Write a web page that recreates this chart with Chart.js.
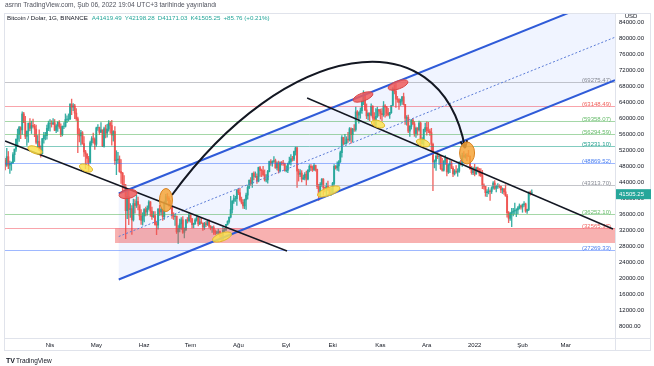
<!DOCTYPE html>
<html>
<head>
<meta charset="utf-8">
<script src="https://cdn.jsdelivr.net/npm/chart.js@4.4.1/dist/chart.umd.min.js"></script>
<style>
  html, body { margin: 0; padding: 0; background: #ffffff; }
  #wrap { width: 654px; height: 366px; }
</style>
</head>
<body>
<div id="wrap"><canvas id="btcChart" width="654" height="366"></canvas></div>
<script>
// days counted from 2021-01-01 (day 0); first candle is 2021-03-02
const firstDay = 61;
const firstOpen = 49.6; // close of 2021-03-01, thousands USD

// daily closes / highs / lows in thousands USD, one row per month (Mar 2021 .. Feb 2022)
const closes = [
  48.4,50.5,48.4,48.8,48.9,51.0,52.4,54.9,56.0,57.8,57.2,61.2,59.0,55.6,56.9,58.9,57.6,58.3,58.1,57.4,54.1,54.3,52.3,51.3,55.0,55.8,55.8,57.6,58.8,58.8,
  58.7,59.0,57.1,58.2,59.1,58.0,56.0,58.1,58.1,59.8,59.9,59.9,63.6,62.9,63.2,61.4,60.0,56.2,55.7,56.5,53.8,51.7,51.2,50.1,49.1,54.0,55.0,54.9,53.6,57.7,
  57.8,56.6,57.2,53.2,57.5,56.4,57.4,58.9,58.3,55.9,56.8,49.5,49.7,49.9,46.8,46.4,43.6,42.9,37.0,40.6,37.3,37.5,34.7,38.8,38.3,39.3,38.5,35.7,34.6,35.7,37.3,
  36.7,37.6,39.2,36.9,35.5,35.8,33.6,33.4,37.4,36.7,37.3,35.5,39.1,40.5,40.1,38.3,38.1,35.8,35.5,35.6,31.7,32.5,33.7,34.7,31.6,32.2,34.7,34.5,35.9,35.0,
  33.5,33.8,34.7,35.3,33.7,34.2,33.9,32.9,33.8,33.5,34.3,33.1,32.7,32.8,31.9,31.4,31.5,31.8,30.8,29.8,32.1,32.3,33.6,34.3,35.4,37.3,39.4,40.0,40.0,42.2,41.5,
  39.8,39.1,38.2,39.7,40.9,42.8,44.6,43.8,46.3,45.6,45.6,44.4,47.8,47.1,47.0,46.0,44.7,44.7,46.8,49.3,48.9,49.3,49.5,47.7,48.9,47.0,49.0,48.9,48.8,47.0,47.1,
  48.8,49.3,50.0,49.9,51.8,52.7,46.9,46.1,46.4,44.9,45.2,46.1,44.9,47.1,48.1,47.8,47.3,48.3,47.3,43.0,40.7,43.6,44.9,42.8,42.7,43.2,42.2,41.0,41.5,43.8,
  48.1,47.7,48.2,49.2,51.5,55.3,53.8,53.9,54.9,54.7,57.5,56.0,57.4,57.3,61.7,60.9,61.5,62.0,64.3,66.0,62.2,60.7,61.3,60.9,63.1,60.3,58.5,60.6,62.3,61.9,61.3,
  61.0,63.2,62.9,61.4,61.0,61.5,63.3,67.5,66.9,64.9,64.8,64.1,64.4,65.5,63.6,60.1,60.3,56.9,58.1,59.7,58.7,56.3,57.6,57.2,58.9,53.7,54.7,57.3,57.8,57.0,
  56.9,56.5,53.6,49.2,49.4,50.6,50.5,50.6,47.5,47.1,49.4,50.1,46.7,48.4,48.9,47.6,46.2,46.9,46.7,46.9,49.0,48.6,50.8,50.4,50.8,50.7,50.6,47.5,46.5,47.1,46.2,
  47.7,47.3,46.4,45.8,43.4,43.1,41.5,41.7,41.9,41.8,42.7,43.9,42.6,43.1,43.2,43.1,42.2,42.4,41.7,40.7,36.5,35.1,36.3,36.7,36.9,37.1,37.2,37.7,38.2,37.9,38.5,
  38.7,36.9,37.3,41.6,41.41949,41.50525
];
const highs = [
  50.1,52.6,51.8,49.4,49.2,51.5,52.4,54.9,57.4,58.1,58.0,61.7,61.6,60.6,56.9,58.9,60.0,59.4,59.9,58.6,58.4,55.8,57.2,53.2,55.1,56.6,56.6,58.4,59.4,59.8,
  59.5,60.0,59.8,58.5,59.3,59.5,58.7,58.2,59.0,61.2,60.7,61.2,63.8,64.9,63.8,63.6,62.5,60.4,57.5,57.1,56.8,55.5,52.1,51.2,50.6,54.4,55.5,56.4,55.2,57.9,
  58.5,57.9,59.0,57.2,57.9,58.4,58.6,59.5,59.3,59.6,57.0,58.0,52.0,51.6,50.7,49.8,46.6,45.8,43.6,42.5,42.2,38.8,38.3,39.9,39.8,40.9,40.4,38.0,37.3,36.5,37.5,
  37.9,38.2,39.5,39.3,37.9,36.8,36.8,34.1,37.5,38.4,37.7,37.4,39.4,41.1,41.3,40.5,39.6,38.2,36.5,36.1,35.7,33.3,34.9,35.3,35.5,32.7,34.8,35.3,36.6,36.1,
  35.1,33.9,35.0,35.9,35.3,35.1,35.1,33.9,34.1,34.3,34.6,34.7,33.3,33.1,33.2,32.2,31.9,32.4,31.9,31.0,32.9,32.6,33.6,34.5,35.4,40.6,39.5,40.9,40.6,42.3,42.4,
  42.6,40.4,39.8,39.9,41.4,43.4,44.7,45.3,46.4,46.7,46.7,46.2,47.9,48.1,47.4,48.1,47.2,46.0,47.1,49.4,49.8,49.5,50.5,49.9,49.2,49.4,49.2,49.3,49.6,48.9,48.2,
  48.9,50.4,51.0,50.6,51.9,52.9,52.9,47.4,47.3,47.0,45.9,46.5,46.9,47.3,48.5,48.5,48.2,48.8,48.4,47.4,43.6,44.0,45.0,45.0,42.9,43.9,44.4,42.8,42.6,44.1,
  48.5,48.3,49.2,49.5,51.9,55.8,55.3,56.1,55.5,56.6,57.8,57.7,57.6,58.5,62.9,62.0,61.7,62.7,64.5,67.0,66.6,63.7,61.5,61.5,63.7,63.3,61.5,62.5,62.9,62.3,62.4,
  62.5,64.3,63.5,63.1,62.6,61.6,63.3,67.8,68.5,69.0,65.6,65.0,64.9,65.5,66.4,63.6,60.8,60.9,58.3,59.8,60.0,59.3,57.9,57.8,59.4,59.2,55.3,57.4,58.9,59.2,
  59.1,57.4,57.6,53.9,49.7,51.0,51.9,51.2,50.8,50.1,49.5,50.8,50.2,48.7,49.5,49.4,48.0,47.3,48.3,47.5,49.3,49.6,51.4,51.8,51.2,51.3,52.1,50.7,48.1,47.9,48.6,
  47.9,47.9,47.6,47.5,47.1,43.7,43.1,42.3,42.8,42.2,43.0,44.3,44.5,43.4,43.8,43.5,43.2,42.7,42.6,43.5,41.1,36.8,36.6,37.6,37.6,38.9,37.5,38.0,38.7,38.4,38.7,
  39.3,38.9,37.4,41.7,41.9,42.19828
];
const lows = [
  47.2,48.1,47.5,46.3,47.1,48.9,49.3,51.8,53.0,54.3,55.0,56.1,59.0,55.0,53.3,54.1,57.0,56.3,57.8,55.5,53.7,53.0,52.0,50.4,51.2,53.9,54.7,54.9,57.0,56.9,
  57.9,58.5,57.0,56.5,56.8,57.6,55.5,55.7,57.5,57.9,59.0,59.4,59.8,61.0,62.0,60.0,59.6,51.5,54.2,53.4,53.6,50.6,47.5,48.8,47.0,48.8,53.3,53.9,52.3,53.1,
  57.1,56.0,56.5,53.0,52.9,55.2,55.4,56.9,56.3,53.4,54.4,48.6,46.0,48.8,46.6,43.8,42.0,42.3,30.0,35.0,33.5,35.3,31.1,34.4,36.4,37.8,37.2,34.7,33.6,33.4,34.2,
  35.7,35.9,37.2,35.6,34.8,35.3,33.4,31.0,32.4,35.8,35.9,34.6,34.8,38.7,39.5,38.1,37.4,35.1,34.8,33.3,31.3,28.8,31.7,32.3,31.3,30.2,32.0,33.9,34.2,34.1,
  32.7,32.7,33.6,34.4,33.2,33.5,33.8,32.1,32.3,33.0,33.3,32.7,32.2,31.6,31.1,31.0,31.2,31.1,30.4,29.3,29.5,31.7,32.0,33.4,33.9,35.2,36.4,38.8,39.3,38.3,41.0,
  39.4,38.7,37.6,37.5,37.3,39.9,42.5,43.3,42.8,44.7,45.3,43.8,44.2,45.6,45.5,45.7,44.4,44.2,43.9,46.7,48.3,48.1,49.1,47.6,47.2,46.4,46.7,48.4,48.3,46.9,46.7,
  46.5,48.6,48.4,49.4,49.5,50.9,42.8,44.4,45.5,44.2,44.8,44.7,43.4,44.7,46.7,47.0,46.8,47.0,46.9,42.5,39.6,40.6,43.1,40.9,41.7,40.8,42.1,40.9,40.8,41.4,
  43.3,47.4,47.1,46.9,49.1,50.4,53.4,53.6,53.7,54.1,54.4,53.9,54.2,56.8,56.9,60.1,58.9,60.1,61.3,63.5,62.0,60.0,59.7,59.5,60.7,59.8,58.0,57.8,60.3,60.7,59.9,
  59.5,60.6,60.4,60.7,60.7,60.1,61.3,63.3,66.2,62.8,64.1,62.3,63.3,63.6,63.4,58.6,58.4,56.5,55.6,57.4,58.5,55.6,55.3,55.9,56.9,53.5,53.7,53.3,56.7,55.9,
  56.5,55.8,51.7,42.0,47.7,47.1,50.0,48.6,47.3,46.9,46.9,48.6,45.7,46.3,46.5,47.5,45.5,45.9,46.4,45.6,46.6,48.4,48.1,50.4,50.1,49.5,50.5,47.3,46.1,46.0,45.7,
  46.1,46.7,45.7,45.5,42.5,42.4,40.6,40.5,41.2,39.6,41.3,42.4,42.3,41.7,42.6,42.7,41.5,41.3,41.1,40.6,35.4,34.0,34.6,33.0,35.7,36.2,35.5,36.2,37.4,37.4,36.6,
  38.1,36.6,36.3,37.0,40.9,41.17103
];

// time axis
const monthStarts = [90, 120, 151, 181, 212, 243, 273, 304, 334, 365, 396, 424];
const monthLabels = ['Nis', 'May', 'Haz', 'Tem', 'Ağu', 'Eyl', 'Eki', 'Kas', 'Ara', '2022', 'Şub', 'Mar'];
const priceTicks = [8000, 12000, 16000, 20000, 24000, 28000, 32000, 36000, 40000, 44000,
  48000, 52000, 56000, 60000, 64000, 68000, 72000, 76000, 80000, 84000];

// horizontal levels drawn on the chart
const levelPrices = [69275.47, 63148.49, 59358.07, 56294.59, 53231.10, 48869.52, 43313.70, 36252.10, 32565.37, 27269.33];
const levelKinds = ['gray', 'red', 'green', 'green', 'teal', 'blue', 'gray', 'green', 'red', 'blue'];

// drawings, in (day, price)
const channel = { startDay: 134.5, upper: 41300, lower: 19800, slope: 155 };
const trendLines = [
  [60.9, 54425, 243.5, 26925],
  [256.5, 65175, 454.6, 32425]
];
const arcPoints = [[169.0, 40925], [242.2, 79675], [342.6, 85925], [358.8, 52675]];
const supportZone = { fromDay: 132.1, top: 32565.37, bottom: 28925 };
// day, price, width (days), height (price), tilt (deg), colour
const marks = [
  [80.3, 52175, 9.7, 1750, 21, 'yellow'],
  [113.3, 47675, 9.0, 1750, 21, 'yellow'],
  [140.5, 41175, 11.7, 2250, -10, 'red'],
  [165.1, 39675, 8.4, 5750, 0, 'orange'],
  [201.4, 30425, 13.0, 2000, -20, 'yellow'],
  [270.5, 41800, 15.5, 2000, -20, 'yellow'],
  [292.7, 65425, 13.6, 2000, -20, 'red'],
  [315.4, 68425, 13.6, 2000, -20, 'red'],
  [302.4, 58675, 9.0, 1750, 18, 'yellow'],
  [331.6, 53925, 9.0, 1750, 18, 'yellow'],
  [360.1, 51425, 9.7, 5500, 0, 'orange']
];

const headerTop = 'asrnn TradingView.com, Şub 06, 2022 19:04 UTC+3 tarihinde yayınlandı';
const headerSymbol = 'Bitcoin / Dolar, 1G, BINANCE';
const headerValues = ['A41419.49', 'Y42198.28', 'D41171.03', 'K41505.25', '+85.76 (+0.21%)'];

const X_MIN = 60.2, X_MAX = 455.9;
const Y_MIN = 5175, Y_MAX = 86425;
const FONT = '"Liberation Sans", Arial, sans-serif';
const UP = 'rgba(38, 166, 154, 0.9)';
const DOWN = 'rgba(239, 83, 80, 0.9)';

const lineColors = {
  gray: 'rgba(149, 152, 161, 0.55)', red: 'rgba(242, 54, 69, 0.45)', green: 'rgba(76, 175, 80, 0.5)',
  teal: 'rgba(8, 153, 129, 0.5)', blue: 'rgba(41, 98, 255, 0.45)'
};
const textColors = { gray: '#868993', red: '#f0605a', green: '#66bb6a', teal: '#1e9e8c', blue: '#4a7ff0' };
const markStyles = {
  yellow: ['rgba(250, 226, 80, 0.85)', '#e2b62a'],
  red: ['rgba(240, 92, 92, 0.85)', '#d94545'],
  orange: ['rgba(246, 164, 56, 0.85)', '#d9821f']
};

const opens = closes.map((c, i) => i === 0 ? firstOpen : closes[i - 1]);
const bodyData = closes.map((c, i) => ({ x: firstDay + i, y: [opens[i] * 1000, c * 1000] }));
const wickData = closes.map((c, i) => ({ x: firstDay + i, y: [lows[i] * 1000, highs[i] * 1000] }));
const candleColors = closes.map((c, i) => c >= opens[i] ? UP : DOWN);

function clipArea(ctx, a) {
  ctx.beginPath();
  ctx.rect(a.left, a.top, a.right - a.left, a.bottom - a.top);
  ctx.clip();
}

const drawings = {
  id: 'drawings',
  beforeDatasetsDraw(chart) {
    const { ctx, chartArea: a, scales: { x, y } } = chart;
    ctx.save();
    clipArea(ctx, a);
    const d0 = channel.startDay, d1 = X_MAX;
    const up = d => channel.upper + (d - d0) * channel.slope;
    const lo = d => channel.lower + (d - d0) * channel.slope;
    ctx.fillStyle = 'rgba(41, 98, 255, 0.07)';
    ctx.beginPath();
    ctx.moveTo(x.getPixelForValue(d0), y.getPixelForValue(up(d0)));
    ctx.lineTo(x.getPixelForValue(d1), y.getPixelForValue(up(d1)));
    ctx.lineTo(x.getPixelForValue(d1), y.getPixelForValue(lo(d1)));
    ctx.lineTo(x.getPixelForValue(d0), y.getPixelForValue(lo(d0)));
    ctx.closePath();
    ctx.fill();
    ctx.restore();
  },
  afterDatasetsDraw(chart) {
    const { ctx, chartArea: a, scales: { x, y } } = chart;
    ctx.save();
    clipArea(ctx, a);

    // support zone
    const zx = x.getPixelForValue(supportZone.fromDay);
    const zt = y.getPixelForValue(supportZone.top);
    const zb = y.getPixelForValue(supportZone.bottom);
    ctx.fillStyle = 'rgba(239, 83, 80, 0.45)';
    ctx.fillRect(zx, zt, a.right - zx, zb - zt);

    // horizontal levels with labels
    ctx.font = '6px ' + FONT;
    ctx.textAlign = 'right';
    ctx.textBaseline = 'middle';
    levelPrices.forEach((p, i) => {
      const py = Math.round(y.getPixelForValue(p)) + 0.5;
      ctx.strokeStyle = lineColors[levelKinds[i]];
      ctx.lineWidth = 1;
      ctx.beginPath();
      ctx.moveTo(a.left, py);
      ctx.lineTo(a.right, py);
      ctx.stroke();
      ctx.fillStyle = textColors[levelKinds[i]];
      ctx.fillText('(' + p.toFixed(2) + ')', a.right - 4, py - 2);
    });

    // channel borders + dotted middle
    const d0 = channel.startDay, d1 = X_MAX;
    const seg = (p0, p1) => {
      ctx.beginPath();
      ctx.moveTo(x.getPixelForValue(d0), y.getPixelForValue(p0));
      ctx.lineTo(x.getPixelForValue(d1), y.getPixelForValue(p1));
      ctx.stroke();
    };
    const span = (d1 - d0) * channel.slope;
    ctx.strokeStyle = '#2f5bd8';
    ctx.lineWidth = 2;
    seg(channel.upper, channel.upper + span);
    seg(channel.lower, channel.lower + span);
    ctx.lineWidth = 1;
    ctx.strokeStyle = '#5a7bd6';
    ctx.setLineDash([2, 2]);
    const mid = (channel.upper + channel.lower) / 2;
    seg(mid, mid + span);
    ctx.setLineDash([]);

    // trend lines
    ctx.strokeStyle = '#131722';
    ctx.lineWidth = 1.4;
    trendLines.forEach(t => {
      ctx.beginPath();
      ctx.moveTo(x.getPixelForValue(t[0]), y.getPixelForValue(t[1]));
      ctx.lineTo(x.getPixelForValue(t[2]), y.getPixelForValue(t[3]));
      ctx.stroke();
    });

    // curved arrow
    const pts = arcPoints.map(p => [x.getPixelForValue(p[0]), y.getPixelForValue(p[1])]);
    ctx.lineWidth = 2;
    ctx.beginPath();
    ctx.moveTo(pts[0][0], pts[0][1]);
    ctx.bezierCurveTo(pts[1][0], pts[1][1], pts[2][0], pts[2][1], pts[3][0], pts[3][1]);
    ctx.stroke();
    const ang = Math.atan2(pts[3][1] - pts[2][1], pts[3][0] - pts[2][0]);
    ctx.beginPath();
    [-0.45, 0.45].forEach(o => {
      ctx.moveTo(pts[3][0], pts[3][1]);
      ctx.lineTo(pts[3][0] - 8 * Math.cos(ang + o), pts[3][1] - 8 * Math.sin(ang + o));
    });
    ctx.stroke();

    // highlight ellipses
    ctx.lineWidth = 1;
    marks.forEach(m => {
      const cx = x.getPixelForValue(m[0]);
      const cy = y.getPixelForValue(m[1]);
      const rx = Math.abs(x.getPixelForValue(m[0] + m[2] / 2) - cx);
      const ry = Math.abs(cy - y.getPixelForValue(m[1] + m[3] / 2));
      ctx.fillStyle = markStyles[m[5]][0];
      ctx.strokeStyle = markStyles[m[5]][1];
      ctx.beginPath();
      ctx.ellipse(cx, cy, rx, ry, m[4] * Math.PI / 180, 0, Math.PI * 2);
      ctx.fill();
      ctx.stroke();
    });
    ctx.restore();
  },
  afterDraw(chart) {
    const { ctx, chartArea: a, scales: { y } } = chart;
    ctx.save();
    // pane borders
    ctx.strokeStyle = '#e0e3eb';
    ctx.lineWidth = 1;
    ctx.strokeRect(4.5, 13.5, 646, 337);
    ctx.beginPath();
    ctx.moveTo(a.right + 0.5, 13); ctx.lineTo(a.right + 0.5, 350);
    ctx.moveTo(4, a.bottom + 0.5); ctx.lineTo(650, a.bottom + 0.5);
    ctx.stroke();

    // header
    ctx.textBaseline = 'middle';
    ctx.textAlign = 'left';
    ctx.font = '6.6px ' + FONT;
    ctx.fillStyle = '#50535e';
    ctx.fillText(headerTop, 5, 5.5);
    ctx.font = '6.2px ' + FONT;
    ctx.fillStyle = '#131722';
    ctx.fillText(headerSymbol, 7, 18);
    let hx = 7 + ctx.measureText(headerSymbol).width + 4;
    ctx.fillStyle = '#26a69a';
    headerValues.forEach(v => {
      ctx.fillText(v, hx, 18);
      hx += ctx.measureText(v).width + 3;
    });

    // currency + last price box
    ctx.font = '6px ' + FONT;
    ctx.textAlign = 'center';
    ctx.fillStyle = '#131722';
    ctx.fillText('USD', 631, 16.5);
    const last = closes[closes.length - 1] * 1000;
    const ly = y.getPixelForValue(last) + 1.5;
    ctx.fillStyle = '#26a69a';
    ctx.fillRect(a.right + 1, ly - 5, 35, 10);
    ctx.fillStyle = '#ffffff';
    ctx.textAlign = 'left';
    ctx.fillText(last.toFixed(2), a.right + 4, ly);

    // footer logo
    ctx.fillStyle = '#131722';
    ctx.font = 'bold 7px ' + FONT;
    ctx.fillText('TV', 6, 361);
    ctx.font = '6.5px ' + FONT;
    ctx.fillText('TradingView', 16, 361);
    ctx.restore();
  }
};

new Chart(document.getElementById('btcChart').getContext('2d'), {
  type: 'bar',
  data: {
    datasets: [
      { label: 'wick', data: wickData, backgroundColor: candleColors, barThickness: 0.7, grouped: false, borderWidth: 0, order: 2 },
      { label: 'body', data: bodyData, backgroundColor: candleColors, barThickness: 1.3, grouped: false, borderWidth: 0, order: 1 }
    ]
  },
  options: {
    responsive: false,
    animation: false,
    layout: { padding: { left: 4, top: 13, right: 4, bottom: 16 } },
    plugins: { legend: { display: false }, tooltip: { enabled: false } },
    scales: {
      x: {
        type: 'linear',
        min: X_MIN,
        max: X_MAX,
        offset: false,
        grid: { display: false, drawTicks: false },
        border: { display: false },
        afterBuildTicks: s => { s.ticks = monthStarts.map(v => ({ value: v })); },
        afterFit: s => { s.height = 12; },
        ticks: {
          autoSkip: false, maxRotation: 0, minRotation: 0, padding: 4,
          color: '#131722', font: { family: FONT, size: 6 },
          callback: v => monthLabels[monthStarts.indexOf(v)]
        }
      },
      y: {
        position: 'right',
        min: Y_MIN,
        max: Y_MAX,
        grid: { display: false, drawTicks: false },
        border: { display: false },
        afterBuildTicks: s => { s.ticks = priceTicks.map(v => ({ value: v })); },
        afterFit: s => { s.width = 35; },
        ticks: {
          padding: 4, color: '#131722', font: { family: FONT, size: 6 },
          callback: v => Number(v).toFixed(2)
        }
      }
    }
  },
  plugins: [drawings]
});
</script>
</body>
</html>
